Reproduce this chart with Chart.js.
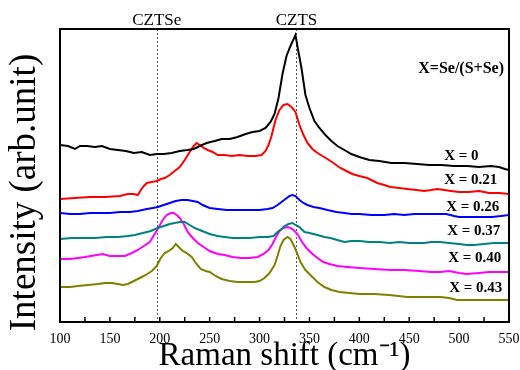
<!DOCTYPE html>
<html>
<head>
<meta charset="utf-8">
<script src="https://cdn.jsdelivr.net/npm/chart.js@4/dist/chart.umd.min.js"></script>
<style>
  body { margin: 0; background: #fff; }
</style>
</head>
<body>
<canvas id="raman-chart" width="520" height="370"></canvas>
<script>
// Raman spectra, offset vertically (arb. units), one trace per composition
const seriesNames = ["X = 0", "X = 0.21", "X = 0.26", "X = 0.37", "X = 0.40", "X = 0.43"];
const seriesColors = ["#000000", "#ff0000", "#0000ff", "#008080", "#ff00ff", "#808000"];

const shiftX0 = [100,108,115,120,127,135,142,150,158,166,174,182,190,197,204,212,220,228,234,240,247,255,262,270,278,286,293,300,306,311,315,319,323,327,331,336,339,342,346,350,355,360,366,372,378,385,392,400,410,420,432,445,458,470,482,495,508,520,532,540,546,550];
const intX0 = [177,176,173,176,176,175,176,173,172,171,169,170,167,168,168,169,171,172,173,176,179,181,183,183,185,188,190,191,194,200,208,224,248,266,276,287,270,254,227,214,201,194,187,181,176,172,168,165,162,161,159,159,158,157,157,156,156,155,156,155,153,152];

const shiftX21 = [100,115,130,145,160,168,174,178,181,184,187,192,197,201,205,210,215,220,225,230,234,237,240,244,248,253,258,265,272,280,288,296,302,306,309,312,316,320,324,328,332,336,340,344,348,353,358,363,368,374,381,387,393,400,408,418,425,431,440,448,457,465,472,478,485,492,500,510,520,530,540,550];
const intX21 = [123,124,125,125,126,128,128,127,132,136,139,140,141,143,144,147,151,155,162,170,176,179,177,174,172,170,167,167,166,167,166,166,167,171,177,186,202,212,217,218,215,210,197,187,179,173,169,166,163,159,154,151,148,146,144,139,137,135,134,133,132,131,132,133,132,131,130,130,131,129,129,128];

const shiftX26 = [100,110,120,130,140,150,160,170,178,187,193,198,204,210,216,222,228,233,238,243,250,258,267,275,283,292,300,308,313,318,322,326,330,333,336,340,344,348,354,360,368,377,385,392,400,412,425,435,445,455,465,475,487,495,500,510,520,533,542,550];
const intX26 = [109,108,108,109,109,109,110,110,111,113,114,115,117,119,121,122,122,121,120,117,114,113,112,112,112,112,112,113,114,117,120,123,126,127,126,122,119,117,115,114,112,110,109,108,108,107,107,108,107,108,108,108,108,106,105,105,105,105,106,107];

const shiftX37 = [100,112,124,135,147,158,168,175,183,191,198,204,210,215,220,225,230,235,240,245,250,258,265,273,281,290,300,308,314,318,322,325,329,333,336,340,345,350,358,365,371,378,385,392,400,410,420,431,440,450,458,465,472,481,490,500,508,515,525,535,550];
const intX37 = [83,84,84,84,85,85,86,87,89,91,94,96,98,99,100,100,97,94,92,90,88,86,85,84,84,84,85,85,86,90,93,96,98,99,97,95,90,89,87,85,84,82,80,81,81,80,80,79,80,79,79,79,80,80,79,78,77,77,78,79,79];

const shiftX40 = [100,110,118,125,131,137,143,150,158,165,172,178,184,190,195,199,203,207,211,214,217,220,224,228,233,238,244,250,258,265,273,281,290,298,304,309,313,317,320,324,328,331,334,338,342,347,352,358,364,370,378,388,400,415,431,445,460,472,481,490,500,508,520,530,540,550];
const intX40 = [63,63,64,65,66,67,68,66,66,66,69,72,76,80,88,95,102,107,109,109,107,104,98,90,84,79,75,71,68,67,65,64,64,65,68,72,78,86,91,94,95,94,92,88,81,74,69,64,60,58,56,55,54,53,52,52,51,50,50,51,49,48,49,50,50,50];

const shiftX43 = [100,110,118,128,138,145,152,158,163,168,174,180,186,192,197,201,205,209,213,216,219,223,227,232,236,241,246,250,256,262,270,278,287,295,300,305,310,315,318,321,324,328,331,335,338,341,346,351,358,365,372,380,390,400,415,430,448,465,481,490,498,510,525,540,550];
const intX43 = [35,35,36,37,38,39,39,38,37,38,41,44,47,51,56,64,69,71,74,78,75,71,69,65,59,53,51,50,46,43,41,40,40,40,41,44,49,57,66,76,82,85,83,75,68,60,52,47,40,35,32,30,29,28,28,27,25,25,25,24,22,22,22,22,22];

const shifts = [shiftX0, shiftX21, shiftX26, shiftX37, shiftX40, shiftX43];
const intensities = [intX0, intX21, intX26, intX37, intX40, intX43];

// reference phonon modes (cm-1)
const peakShift = [197, 337];
const peakNames = ["CZTSe", "CZTS"];

// where each composition label sits (data coords)
const labelShift = [485, 485, 487, 488, 489, 490];
const labelLevel = [166, 142, 115, 91, 64, 34];

const xTicks = [100, 150, 200, 250, 300, 350, 400, 450, 500, 550];

const serif = "'Liberation Serif', 'Times New Roman', serif";

const datasets = seriesNames.map((name, i) => ({
  label: name,
  data: shifts[i].map((x, j) => ({ x: x, y: intensities[i][j] })),
  borderColor: seriesColors[i],
  borderWidth: 2,
  pointRadius: 0,
  tension: 0,
  fill: false,
}));

const decorations = {
  id: "decorations",
  beforeDatasetsDraw(chart) {
    const { ctx, chartArea: a, scales } = chart;
    ctx.save();
    // dotted guides at the reference modes
    ctx.strokeStyle = "#555";
    ctx.lineWidth = 1;
    ctx.setLineDash([2, 2]);
    peakShift.forEach((v) => {
      const px = Math.round(scales.x.getPixelForValue(v)) + 0.5;
      ctx.beginPath();
      ctx.moveTo(px, a.top);
      ctx.lineTo(px, a.bottom);
      ctx.stroke();
    });
    ctx.restore();
  },
  afterDatasetsDraw(chart) {
    const { ctx, chartArea: a, scales } = chart;
    ctx.save();
    // frame
    ctx.strokeStyle = "#000";
    ctx.lineWidth = 2;
    ctx.strokeRect(a.left, a.top, a.right - a.left, a.bottom - a.top);
    // inward ticks on the bottom axis
    ctx.lineWidth = 1.5;
    for (let v = scales.x.min + 25; v < scales.x.max; v += 25) {
      const px = scales.x.getPixelForValue(v);
      ctx.beginPath();
      ctx.moveTo(px, a.bottom);
      ctx.lineTo(px, a.bottom - 5);
      ctx.stroke();
    }
    ctx.fillStyle = "#000";
    ctx.textBaseline = "middle";
    // y axis title, sitting a bit below the middle of the frame
    ctx.save();
    ctx.font = "37px " + serif;
    ctx.textAlign = "center";
    ctx.translate(25, (a.top + a.bottom) / 2 + 17);
    ctx.rotate(-Math.PI / 2);
    ctx.fillText("Intensity (arb.unit)", 0, 0);
    ctx.restore();
    // mode names above the frame
    ctx.font = "17px " + serif;
    ctx.textAlign = "center";
    peakNames.forEach((name, i) => {
      ctx.fillText(name, scales.x.getPixelForValue(peakShift[i]), a.top - 8);
    });
    // composition labels
    ctx.font = "bold 15px " + serif;
    ctx.textAlign = "left";
    seriesNames.forEach((name, i) => {
      ctx.fillText(name, scales.x.getPixelForValue(labelShift[i]), scales.y.getPixelForValue(labelLevel[i]));
    });
    ctx.font = "bold 16px " + serif;
    ctx.textAlign = "right";
    ctx.fillText("X=Se/(S+Se)", scales.x.getPixelForValue(545), scales.y.getPixelForValue(253));
    ctx.restore();
  },
};

let config = {
  type: "line",
  data: { datasets: datasets },
  options: {
    responsive: false,
    animation: false,
    layout: { padding: { top: 29, right: 11, left: 0, bottom: 0 } },
    scales: {
      x: {
        type: "linear",
        min: 100,
        max: 550,
        afterBuildTicks: (scale) => {
          scale.ticks = xTicks.map((v) => ({ value: v }));
        },
        afterFit: (scale) => {
          scale.height = 48;
          scale.paddingLeft = 0;
          scale.paddingRight = 0;
        },
        grid: { display: false, drawTicks: false },
        border: { display: false },
        ticks: {
          padding: 9,
          color: "#000",
          maxRotation: 0,
          font: { family: serif, size: 14 },
        },
        title: {
          display: true,
          text: "Raman shift (cm\u207B\u00B9)",
          color: "#000",
          font: { family: serif, size: 33, lineHeight: 1 },
          padding: { top: 0, bottom: -3 },
        },
      },
      y: {
        min: 0,
        max: 293,
        afterFit: (scale) => {
          scale.width = 60;
        },
        grid: { display: false, drawTicks: false },
        border: { display: false },
        ticks: { display: false },
      },
    },
    plugins: {
      legend: { display: false },
      tooltip: { enabled: false },
    },
  },
  plugins: [decorations],
};

const ramanChart = new Chart(document.getElementById("raman-chart"), config);
</script>
</body>
</html>
